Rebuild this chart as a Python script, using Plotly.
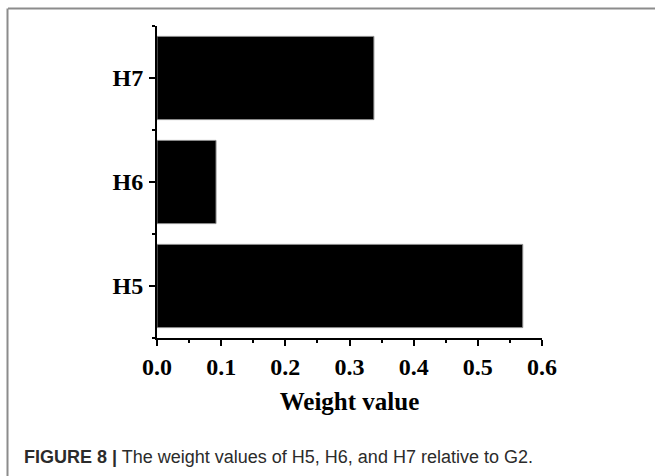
import plotly.graph_objects as go

categories = ["H5", "H6", "H7"]
weights = [0.570, 0.092, 0.338]
x_tick_vals = [0.0, 0.1, 0.2, 0.3, 0.4, 0.5, 0.6]
x_tick_text = ["0.0", "0.1", "0.2", "0.3", "0.4", "0.5", "0.6"]
x_title = "Weight value"
caption_bold = "FIGURE 8 |"
caption_text = " The weight values of H5, H6, and H7 relative to G2."

W, H = 655, 476
L, R, T, B = 157, 113, 26, 138
pw, ph = W - L - R, H - T - B

def px_x(p):
    return (p - L) / pw

def px_y(p):
    return (H - B - p) / ph

serif = "Liberation Serif, Times New Roman, serif"

fig = go.Figure()
fig.add_trace(go.Bar(
    x=weights,
    y=list(range(len(categories))),
    orientation="h",
    marker=dict(color="black", line=dict(color="#8a8a8a", width=1)),
    width=0.8,
    showlegend=False,
))

fig.update_layout(
    width=W, height=H,
    margin=dict(l=L, r=R, t=T, b=B),
    paper_bgcolor="white", plot_bgcolor="white",
    xaxis=dict(
        range=[0, 0.6], tickmode="array", tickvals=x_tick_vals, ticktext=x_tick_text,
        showgrid=False, zeroline=False, showline=True, linecolor="black", linewidth=2,
        ticks="outside", ticklen=6, tickwidth=2, tickcolor="black",
        minor=dict(tickmode="linear", tick0=0.05, dtick=0.1, ticks="outside", ticklen=3,
                   tickwidth=2, tickcolor="black", showgrid=False),
        tickfont=dict(family=serif, size=24, color="black", weight="bold"),
        title=dict(text="<b>" + x_title + "</b>", standoff=14,
                   font=dict(family=serif, size=25, color="black")),
    ),
    yaxis=dict(
        range=[-0.5, 2.5], tickmode="array", tickvals=list(range(len(categories))),
        ticktext=categories,
        showgrid=False, zeroline=False, showline=True, linecolor="black", linewidth=2,
        ticks="outside", ticklen=6, tickwidth=2, tickcolor="black",
        minor=dict(tickmode="linear", tick0=0.5, dtick=1, ticks="outside", ticklen=3,
                   tickwidth=2, tickcolor="black", showgrid=False),
        tickfont=dict(family=serif, size=24, color="black", weight="bold"),
        ticklabelstandoff=1,
    ),
    shapes=[
        dict(type="line", xref="paper", yref="paper", x0=px_x(8), x1=px_x(W + 5),
             y0=px_y(8.5), y1=px_y(8.5), line=dict(color="#8c8c8c", width=2)),
        dict(type="line", xref="paper", yref="paper", x0=px_x(7.5), x1=px_x(7.5),
             y0=px_y(8.5), y1=px_y(H + 5), line=dict(color="#8c8c8c", width=2)),
    ],
    annotations=[
        dict(xref="paper", yref="paper", x=px_x(22), y=px_y(457), xanchor="left",
             yanchor="middle", showarrow=False,
             text="<b>" + caption_bold + "</b>" + caption_text,
             font=dict(family="Liberation Sans, Arial, sans-serif", size=18, color="#2b2b2b")),
    ],
)

fig.write_html(
    "out.html",
    config={"displayModeBar": False},
    post_script="document.body.style.margin='0';document.body.style.overflow='hidden';",
)
